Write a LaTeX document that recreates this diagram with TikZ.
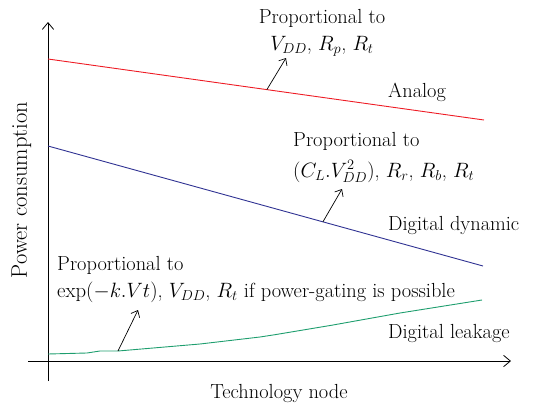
\documentclass[tikz,border=0pt]{standalone}
\usepackage{amsmath}
\usetikzlibrary{arrows.meta,positioning}
\definecolor{analog}{HTML}{EE1C25}
\definecolor{dynamic}{HTML}{2E3192}
\definecolor{leakage}{HTML}{1E9E6E}
\tikzset{every node/.style={font=\fontsize{20.4}{27}\selectfont,inner sep=0pt},
 axis/.style={-{Straight Barb[length=2.4mm,width=4mm]},line width=.8pt},
 trend/.style={line width=.9pt},
 pointer/.style={-{Straight Barb[length=2mm,width=3.4mm]},line width=.7pt}}

\begin{document}
\begin{tikzpicture}[x=1pt,y=-1pt]

\path[use as bounding box] (0,0) rectangle (533,407);
% axes
\coordinate (ybot) at (48,381);
\coordinate (ytip) at (48,22);
\coordinate (xlft) at (28,361);
\coordinate (xtip) at (511,361);
\draw[axis] (ybot) -- (ytip);
\draw[axis] (xlft) -- (xtip);
\node[anchor=base] (xlab) at (279,398) {Technology node};
\node[anchor=base,rotate=90,font=\fontsize{22.5}{27}\selectfont] (ylab) at (27,190) {Power consumption};

% the three trends
\draw[trend,analog] (48,59) coordinate (a0) -- (484,120) coordinate (a1);
\draw[trend,dynamic] (48,146) coordinate (d0) -- (483,266) coordinate (d1);
\draw[trend,leakage] (48,354) -- (87,353) -- (100,351) -- (118,351) coordinate (l0)
 -- (200,344) -- (260,337) -- (273,335) -- (333,325) -- (400,313) -- (482,300);
\path (a0) -- (a1) coordinate[pos=.502] (a2);
\path (d0) -- (d1) coordinate[pos=.632] (d2);

% labels (base = last line)
\node[anchor=base west] (analog) at (388,97) {Analog};
\node[anchor=base west] (dyn) at (388,230) {Digital dynamic};
\node[anchor=base west] (leak) at (388,338) {Digital leakage};
\node[anchor=base,align=center] (pa) at (322,50)
 {Proportional to\\$V_{DD}$, $R_p$, $R_t$};
\node[anchor=base west,align=left] (pd) at (293,177)
 {Proportional to\\[4pt]$(C_L.V_{DD}^2)$, $R_r$, $R_b$, $R_t$};
\node[anchor=base west,align=left] (pl) at (57,297)
 {Proportional to\\$\exp(-k.Vt)$, $V_{DD}$, $R_t$ if power-gating is possible};

% pointers
\coordinate (at) at (286,58);
\coordinate (dt) at (342,189);
\coordinate (lt) at (138,310);
\draw[pointer] (a2) -- (at);
\draw[pointer] (d2) -- (dt);
\draw[pointer] (l0) -- (lt);

\end{tikzpicture}
\end{document}
